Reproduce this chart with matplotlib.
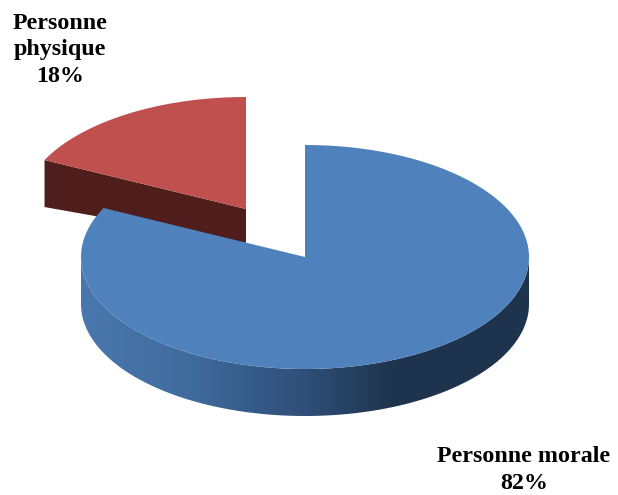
import numpy as np
import matplotlib
matplotlib.use("Agg")
import matplotlib.pyplot as plt
from matplotlib.patches import Polygon
from matplotlib.colors import LinearSegmentedColormap

categories = ["Personne morale", "Personne physique"]
shares = [82.2, 17.8]
label_texts = ["Personne morale\n82%", "Personne\nphysique\n18%"]
top_colors = ["#4f81bd", "#c0504d"]
red_side = "#4f1e1c"

W, H = 618, 495
RX, RY, DEPTH = 224, 112, 47
main_center = (305, 257)
pull_center = (246, 209)

fig = plt.figure(figsize=(W / 100, H / 100), dpi=100)
ax = fig.add_axes([0, 0, 1, 1])
ax.set_xlim(0, W)
ax.set_ylim(H, 0)
ax.axis("off")

def rim(center, t0, t1, n=300):
    t = np.radians(np.linspace(t0, t1, n))
    return center[0] + RX * np.sin(t), center[1] - RY * np.cos(t)

end_blue = 360 * shares[0] / sum(shares)

# --- pulled-out slice: cut face, then top
xe, ye = rim(pull_center, end_blue, end_blue, 1)
ax.add_patch(Polygon([(xe[0], ye[0]), pull_center,
                      (pull_center[0], pull_center[1] + DEPTH * 0.72),
                      (xe[0], ye[0] + DEPTH)],
                     closed=True, fc=red_side, ec="none", zorder=1))
xr, yr = rim(pull_center, end_blue, 360)
ax.add_patch(Polygon(np.r_[np.c_[xr, yr], [pull_center]], closed=True,
                     fc=top_colors[1], ec="none", zorder=2))

# --- blue slice: outer wall with a horizontal gradient
xw, yw = rim(main_center, 90, 270)
wall = Polygon(np.r_[np.c_[xw, yw + DEPTH], np.c_[xw[::-1], yw[::-1]]],
               closed=True, fc="none", ec="none", zorder=3)
ax.add_patch(wall)
cmap = LinearSegmentedColormap.from_list(
    "wall", [(0, "#4a78ae"), (0.25, "#3f6a9c"), (0.5, "#2f4f78"),
             (0.7, "#1e334d"), (1, "#1e334d")])
img = ax.imshow(np.linspace(0, 1, 256)[None, :], cmap=cmap, aspect="auto",
                extent=(main_center[0] - RX, main_center[0] + RX, 420, 250),
                zorder=3, interpolation="bilinear")
img.set_clip_path(wall)
ax.set_xlim(0, W)
ax.set_ylim(H, 0)

# --- blue slice: top
xb, yb = rim(main_center, 0, end_blue)
ax.add_patch(Polygon(np.r_[np.c_[xb, yb], [main_center]], closed=True,
                     fc=top_colors[0], ec="none", zorder=4))

font = dict(family=["Liberation Serif"], fontweight="bold", fontsize=17.3,
            color="black", ha="center", va="center", linespacing=1.32)
ax.text(524, 470, label_texts[0], **font)
ax.text(60, 50, label_texts[1], **font)

fig.savefig("out.png", dpi=100)
